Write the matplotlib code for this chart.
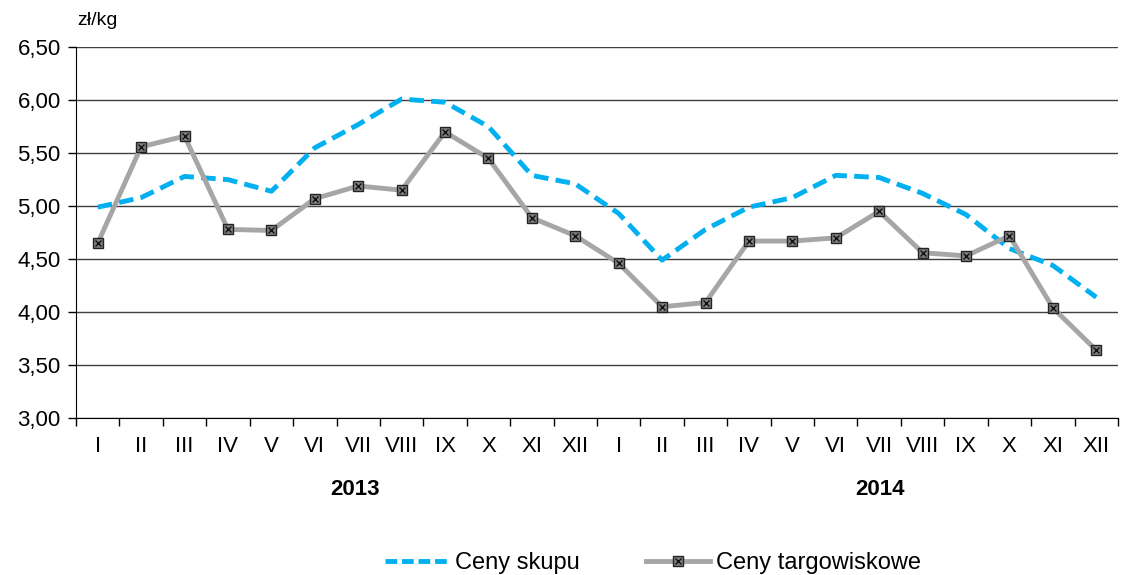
import matplotlib.pyplot as plt
from matplotlib.lines import Line2D

plt.rcParams['font.family'] = ['Liberation Sans', 'DejaVu Sans']

# months for two years
months = ['I', 'II', 'III', 'IV', 'V', 'VI', 'VII', 'VIII', 'IX', 'X', 'XI', 'XII'] * 2
years = ['2013', '2014']

# prices in zl/kg
ceny_skupu = [4.99, 5.08, 5.28, 5.25, 5.14, 5.55, 5.77, 6.01, 5.98, 5.75, 5.29, 5.21,
              4.93, 4.49, 4.78, 4.99, 5.08, 5.29, 5.27, 5.12, 4.92, 4.60, 4.44, 4.14]
ceny_targowiskowe = [4.65, 5.56, 5.66, 4.78, 4.77, 5.07, 5.19, 5.15, 5.70, 5.45, 4.89, 4.72,
                     4.46, 4.05, 4.09, 4.67, 4.67, 4.70, 4.95, 4.56, 4.53, 4.72, 4.04, 3.64]

x = list(range(len(months)))

fig = plt.figure(figsize=(11.23, 5.75), dpi=100)
ax = fig.add_axes([0.0677, 0.273, 0.9278, 0.645])

blue = '#00B0F0'
grey = '#A6A6A6'

ax.plot(x, ceny_skupu, color=blue, lw=3.5, dashes=(3, 1.5), zorder=3)
ax.plot(x, ceny_targowiskowe, color=grey, lw=3.5, zorder=4)
ax.plot(x, ceny_targowiskowe, ls='none', marker='s', ms=7, mfc='#808080', mec='#222222', mew=1, zorder=5)
ax.plot(x, ceny_targowiskowe, ls='none', marker='x', ms=4.5, mec='#111111', mew=1, zorder=6)

ax.set_xlim(-0.5, len(months) - 0.5)
ax.set_ylim(3.0, 6.5)
yt = [3.0 + 0.5 * i for i in range(8)]
ax.set_yticks(yt)
ax.set_yticklabels([f'{v:.2f}'.replace('.', ',') for v in yt], fontsize=16)
ax.yaxis.grid(True, color='#404040', lw=1.0)
ax.set_axisbelow(True)

# month labels at centres, tick marks at boundaries
ax.set_xticks([i - 0.5 for i in range(len(months) + 1)])
ax.set_xticklabels([])
ax.set_xticks(x, minor=True)
ax.set_xticklabels(months, minor=True, fontsize=16)
ax.tick_params(axis='x', which='major', length=6, width=1, direction='out', color='black')
ax.tick_params(axis='x', which='minor', length=0, pad=13)
ax.tick_params(axis='y', length=6, width=1, direction='out', pad=5)

for s in ['top', 'right']:
    ax.spines[s].set_visible(False)
ax.spines['left'].set_color('black')
ax.spines['bottom'].set_color('black')

ax.text(5.93, 2.33, years[0], ha='center', va='center', fontsize=16, fontweight='bold')
ax.text(18.02, 2.33, years[1], ha='center', va='center', fontsize=16, fontweight='bold')

fig.text(0.069, 0.965, 'zł/kg', ha='left', va='center', fontsize=14)

h1 = Line2D([], [], color=blue, lw=3.5, dashes=(2.4, 1.0))
h2a = Line2D([], [], color=grey, lw=3.5)
h2b = Line2D([], [], ls='none', marker='s', ms=7, mfc='#808080', mec='#222222')
h2c = Line2D([], [], ls='none', marker='x', ms=4.5, mec='#111111')
fig.legend([h1, (h2a, h2b, h2c)], ['Ceny skupu', 'Ceny targowiskowe'],
           loc='center', bbox_to_anchor=(0.5815, 0.021), ncol=2, frameon=False,
           fontsize=17, handlelength=2.7, handletextpad=0.25, columnspacing=2.8)

fig.savefig('out.png', dpi=100)
